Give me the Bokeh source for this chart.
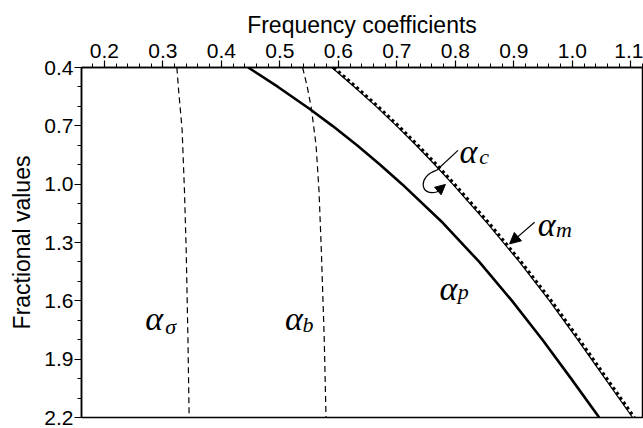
from bokeh.plotting import figure
from bokeh.models import Range1d, FixedTicker, Label, Arrow, NormalHead
from bokeh.embed import file_html
from bokeh.resources import INLINE

# ---- data ----
x_ticks = [0.2, 0.3, 0.4, 0.5, 0.6, 0.7, 0.8, 0.9, 1.0, 1.1]
x_tick_labels = ["0.2", "0.3", "0.4", "0.5", "0.6", "0.7", "0.8", "0.9", "1.0", "1.1"]
y_ticks = [0.4, 0.7, 1.0, 1.3, 1.6, 1.9, 2.2]
y_tick_labels = ["0.4", "0.7", "1.0", "1.3", "1.6", "1.9", "2.2"]

sigma_y = [0.4, 0.517, 0.72, 1.033, 1.342, 1.8, 2.2]
sigma_x = [0.324, 0.327, 0.333, 0.337, 0.340, 0.343, 0.345]

b_y = [0.4, 0.5, 0.611, 0.8, 1.033, 1.342, 1.8, 2.2]
b_x = [0.539, 0.547, 0.554, 0.562, 0.567, 0.571, 0.576, 0.579]

p_y = [0.4, 0.5, 0.611, 0.7, 0.8, 0.9, 1.0, 1.2, 1.4, 1.6, 1.8, 2.0, 2.2]
p_x = [0.446, 0.497, 0.550, 0.590, 0.632, 0.6715, 0.709, 0.779, 0.841, 0.897, 0.949, 0.998, 1.046]

c_y = [0.4, 0.5, 0.6, 0.7, 0.8, 0.9, 1.0, 1.2, 1.4, 1.6, 1.8, 2.0, 2.2]
c_x = [0.589, 0.6275, 0.6645, 0.6995, 0.733, 0.765, 0.7955, 0.8545, 0.9095, 0.961, 1.009, 1.056, 1.103]

m_y = [0.4, 0.5, 0.6, 0.7, 0.8, 0.9, 1.0, 1.2, 1.4, 1.6, 1.8, 2.0, 2.2]
m_x = [0.592, 0.6305, 0.6675, 0.7025, 0.736, 0.768, 0.7985, 0.8575, 0.9125, 0.964, 1.012, 1.059, 1.106]

# ---- figure ----
p = figure(width=643, height=428, output_backend="svg", toolbar_location=None,
           x_range=Range1d(0.161, 1.12), y_range=Range1d(2.2, 0.4),
           x_axis_location="above",
           min_border_left=81, min_border_right=1, min_border_top=67, min_border_bottom=11)
p.grid.visible = False
p.outline_line_color = "black"
p.outline_line_width = 1.5
p.background_fill_color = "white"
p.border_fill_color = "white"

xminor = [round(0.16 + 0.02 * i, 2) for i in range(49)]
yminor = [round(0.4 + 0.1 * i, 1) for i in range(19)]

xa = p.xaxis[0]
xa.ticker = FixedTicker(ticks=x_ticks, minor_ticks=xminor)
xa.major_label_overrides = {t: l for t, l in zip(x_ticks, x_tick_labels)}
xa.axis_label = "Frequency coefficients"

ya = p.yaxis[0]
ya.ticker = FixedTicker(ticks=y_ticks, minor_ticks=yminor)
ya.major_label_overrides = {t: l for t, l in zip(y_ticks, y_tick_labels)}
ya.axis_label = "Fractional values"

for ax in (xa, ya):
    ax.axis_line_color = "black"
    ax.axis_line_width = 1.5
    ax.major_tick_line_color = "black"
    ax.minor_tick_line_color = "black"
    ax.major_tick_line_width = 1.2
    ax.minor_tick_line_width = 1.0
    ax.major_tick_out = 7
    ax.major_tick_in = 0
    ax.minor_tick_out = 4
    ax.minor_tick_in = 0
    ax.major_label_text_font = "Liberation Sans"
    ax.major_label_text_font_size = "21px"
    ax.major_label_text_color = "black"
    ax.axis_label_text_font = "Liberation Sans"
    ax.axis_label_text_font_size = "23px"
    ax.axis_label_text_font_style = "normal"
    ax.axis_label_text_color = "black"
xa.major_label_standoff = 3
xa.axis_label_standoff = 3
ya.major_label_standoff = 1
ya.axis_label_standoff = 6

# ---- curves ----
p.line(sigma_x, sigma_y, line_color="black", line_width=1.2, line_dash="6 4")
p.line(b_x, b_y, line_color="black", line_width=1.2, line_dash="6 4")
p.line(p_x, p_y, line_color="black", line_width=2.6, line_join="round")
p.line(c_x, c_y, line_color="black", line_width=1.2, line_join="round")
p.line(m_x, m_y, line_color="black", line_width=3.2, line_dash="3 3")

# ---- labels ----
def greek(x, y, sub, sx, sy):
    p.add_layout(Label(x=x, y=y, text="α", text_font="Liberation Serif",
                       text_font_style="italic", text_font_size="34px",
                       text_baseline="alphabetic", text_color="black"))
    p.add_layout(Label(x=sx, y=sy, text=sub, text_font="Liberation Serif",
                       text_font_style="italic", text_font_size="22px",
                       text_baseline="alphabetic", text_color="black"))

greek(0.270, 1.690, "σ", 0.304, 1.733)
greek(0.509, 1.690, "b", 0.539, 1.723)
greek(0.807, 0.830, "c", 0.841, 0.856)
greek(0.941, 1.208, "m", 0.972, 1.234)
greek(0.773, 1.534, "p", 0.804, 1.553)

# alpha_m leader arrow
p.add_layout(Arrow(x_start=0.9355, y_start=1.196, x_end=0.8928, y_end=1.307,
                   line_color="black", line_width=1.2,
                   end=NormalHead(size=11, fill_color="black", line_color="black")))

# alpha_c leader with curled arrow
p.segment(x0=[0.8046], y0=[0.826], x1=[0.7677], y1=[0.9294], line_color="black", line_width=1.2)
p.bezier(x0=[0.7677], y0=[0.9294], x1=[0.7683], y1=[1.0402],
         cx0=[0.7358], cy0=[0.9603], cx1=[0.7392], cy1=[1.0634],
         line_color="black", line_width=1.2)
p.add_layout(Arrow(x_start=0.7683, y_start=1.0402, x_end=0.7831, y_end=1.0015,
                   line_color="black", line_width=1.2,
                   end=NormalHead(size=10, fill_color="black", line_color="black")))

open("out.html", "w").write(file_html(p, INLINE))
